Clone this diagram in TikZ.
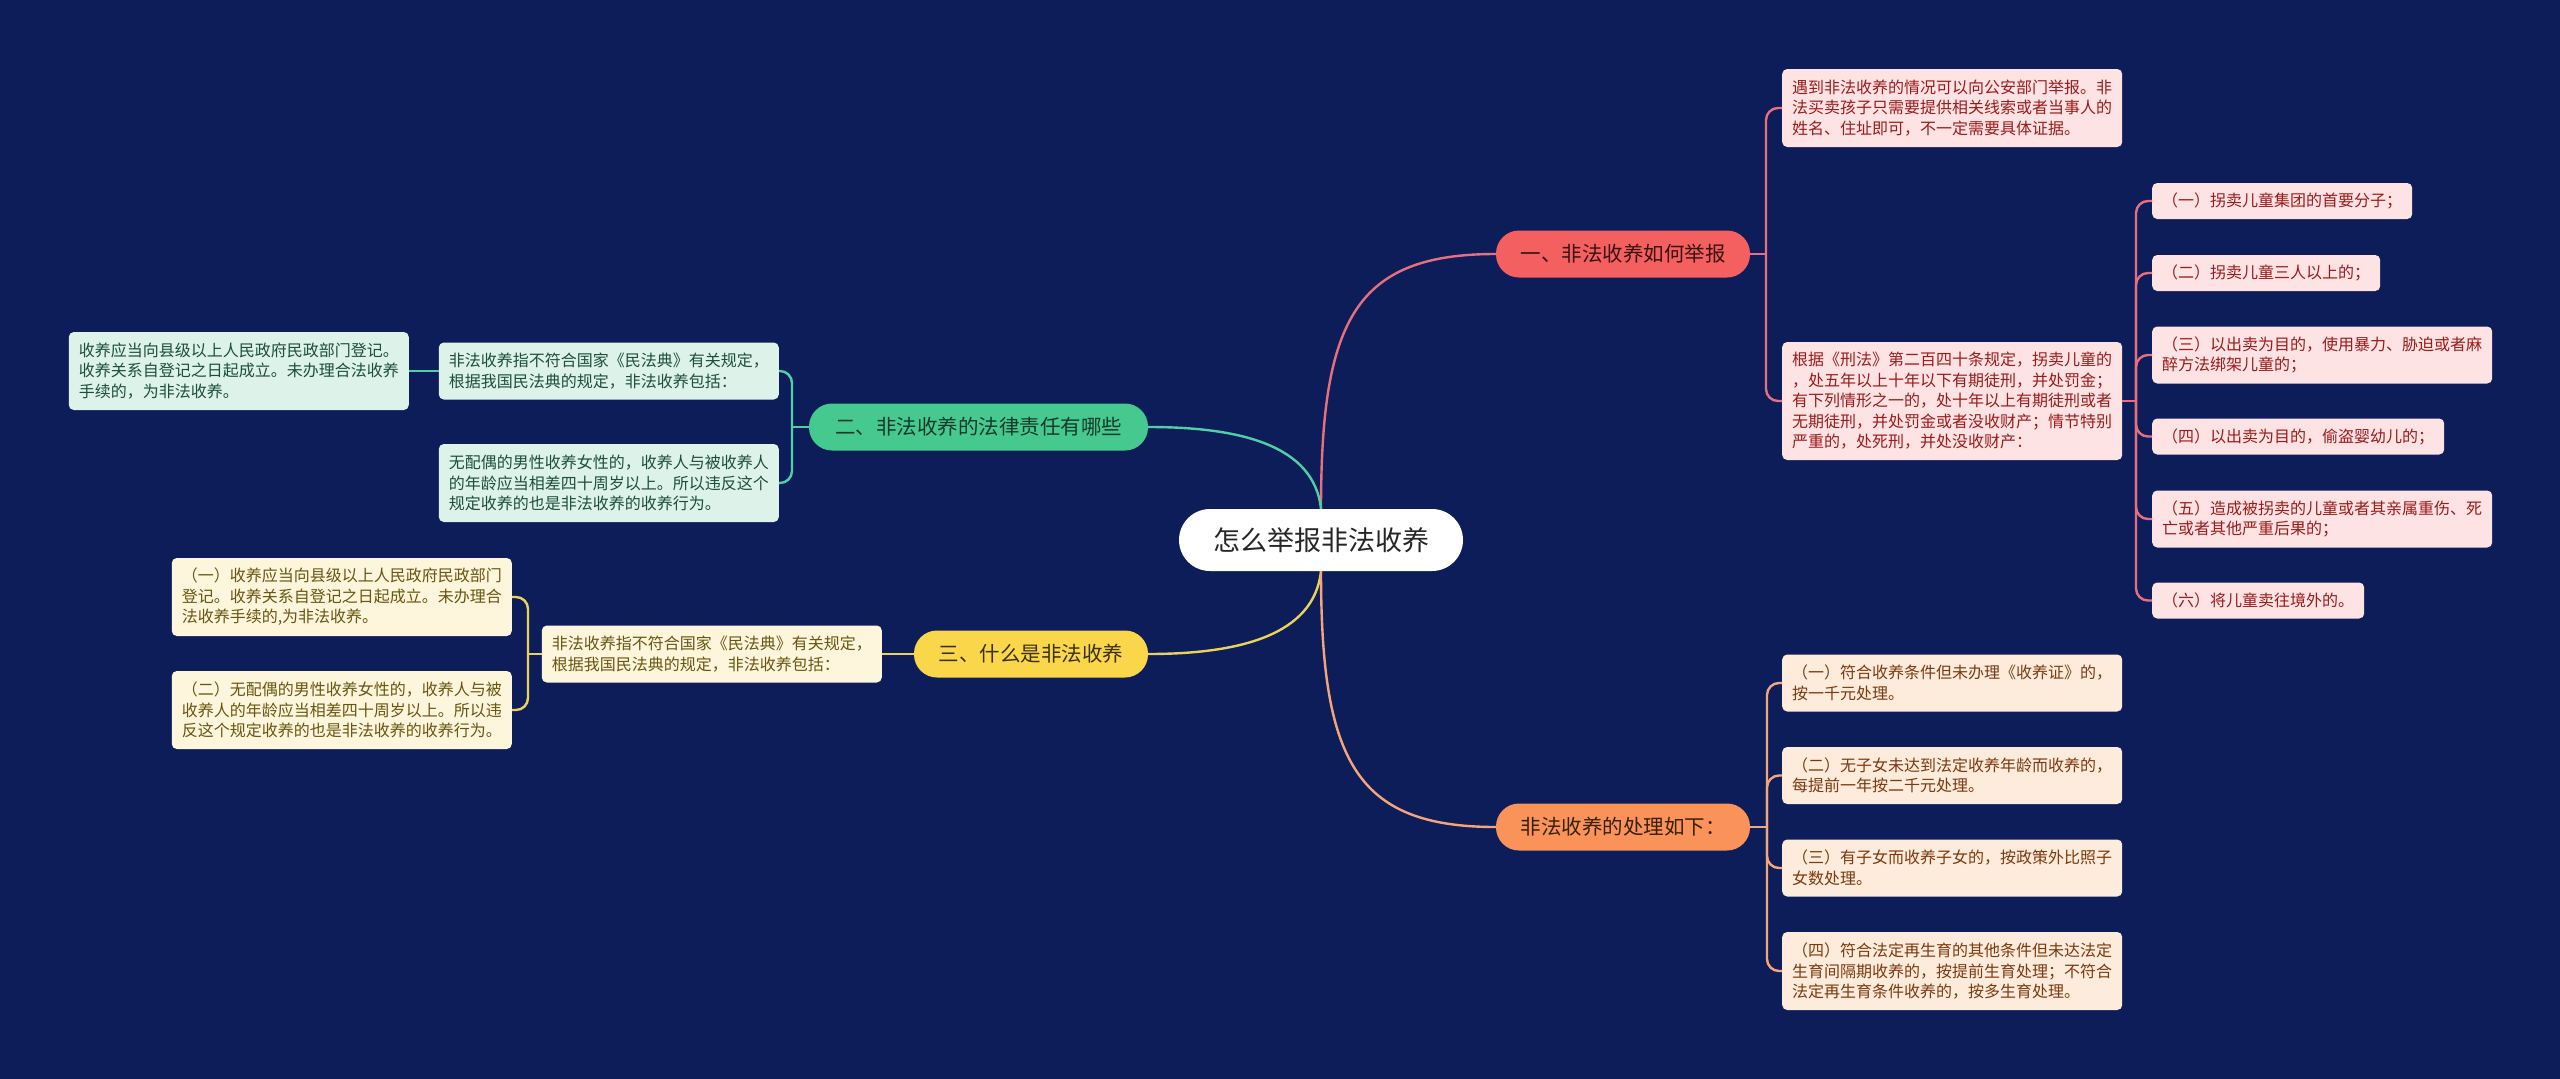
\documentclass[tikz,border=0pt]{standalone}
\usepackage{fontspec}
\setmainfont{Noto Sans CJK SC}
\definecolor{bg}{RGB}{13,29,89}
\definecolor{rfill}{HTML}{F45F5F}\definecolor{rleaf}{HTML}{FDE3E3}\definecolor{rtext}{HTML}{9A1B1B}\definecolor{rline}{HTML}{E8707E}\definecolor{rbt}{HTML}{3B1212}
\definecolor{ofill}{HTML}{F9935A}\definecolor{oleaf}{HTML}{FDEBDC}\definecolor{otext}{HTML}{7B3A0E}\definecolor{oline}{HTML}{F6A57A}\definecolor{obt}{HTML}{3B2008}
\definecolor{gfill}{HTML}{45C98F}\definecolor{gleaf}{HTML}{DDF3EA}\definecolor{gtext}{HTML}{1E4D3C}\definecolor{gline}{HTML}{4ECFA6}\definecolor{gbt}{HTML}{163A2A}
\definecolor{yfill}{HTML}{F9D64A}\definecolor{yleaf}{HTML}{FDF6DC}\definecolor{ytext}{HTML}{6A5510}\definecolor{yline}{HTML}{EBD25A}\definecolor{ybt}{HTML}{3A3010}
\tikzset{
  leaf/.style={rounded corners=5pt, align=left, inner xsep=10pt, inner ysep=2pt, font=\fontsize{16}{20.5}\selectfont},
  hA/.style={minimum height=36pt}, hB/.style={minimum height=57pt},
  hC/.style={minimum height=78pt}, hE/.style={minimum height=118pt},
  lR/.style={leaf, fill=rleaf, text=rtext},
  lO/.style={leaf, fill=oleaf, text=otext},
  lG/.style={leaf, fill=gleaf, text=gtext},
  lY/.style={leaf, fill=yleaf, text=ytext},
  br/.style={rounded corners=23pt, minimum height=47pt, inner sep=0pt, font=\fontsize{20.5}{24}\selectfont},
  con/.style={line width=2.4pt},
  brk/.style={line width=2.4pt, rounded corners=12pt},
}
\begin{document}
\begin{tikzpicture}[x=1pt,y=-1pt]
\fill[bg] (0,0) rectangle (2560,1079);
\useasboundingbox (0,0) rectangle (2560,1079);

% center
\node[fill=white, rounded corners=31pt, minimum width=284pt, minimum height=62pt, inner sep=0pt, text=black!85, font=\fontsize{27}{30}\selectfont] (c) at (1321,540) {怎么举报非法收养};

% branches
\node[br, fill=rfill, text=rbt, minimum width=254pt] (b1) at (1623,254) {一、非法收养如何举报};
\node[br, fill=ofill, text=obt, minimum width=254pt] (b4) at (1623,827) {非法收养的处理如下：};
\node[br, fill=gfill, text=gbt, minimum width=339pt] (b2) at (978.5,427) {二、非法收养的法律责任有哪些};
\node[br, fill=yfill, text=ybt, minimum width=234pt] (b3) at (1031,654) {三、什么是非法收养};

% branch 1 leaves
\node[lR, hC, anchor=west] (l1a) at (1782,108) {遇到非法收养的情况可以向公安部门举报。非\\法买卖孩子只需要提供相关线索或者当事人的\\姓名、住址即可，不一定需要具体证据。};
\node[lR, hE, anchor=west] (l1b) at (1782,401) {根据《刑法》第二百四十条规定，拐卖儿童的\\，处五年以上十年以下有期徒刑，并处罚金；\\有下列情形之一的，处十年以上有期徒刑或者\\无期徒刑，并处罚金或者没收财产；情节特别\\严重的，处死刑，并处没收财产：};
\node[lR, hA, anchor=west] (s1) at (2152,201) {（一）拐卖儿童集团的首要分子；};
\node[lR, hA, anchor=west] (s2) at (2152,273) {（二）拐卖儿童三人以上的；};
\node[lR, hB, anchor=west] (s3) at (2152,355) {（三）以出卖为目的，使用暴力、胁迫或者麻\\醉方法绑架儿童的；};
\node[lR, hA, anchor=west] (s4) at (2152,436.5) {（四）以出卖为目的，偷盗婴幼儿的；};
\node[lR, hB, anchor=west] (s5) at (2152,519) {（五）造成被拐卖的儿童或者其亲属重伤、死\\亡或者其他严重后果的；};
\node[lR, hA, anchor=west] (s6) at (2152,600.5) {（六）将儿童卖往境外的。};

% branch 4 leaves
\node[lO, hB, anchor=west] (l4a) at (1782,683) {（一）符合收养条件但未办理《收养证》的，\\按一千元处理。};
\node[lO, hB, anchor=west] (l4b) at (1782,775.5) {（二）无子女未达到法定收养年龄而收养的，\\每提前一年按二千元处理。};
\node[lO, hB, anchor=west] (l4c) at (1782,868) {（三）有子女而收养子女的，按政策外比照子\\女数处理。};
\node[lO, hC, anchor=west] (l4d) at (1782,971) {（四）符合法定再生育的其他条件但未达法定\\生育间隔期收养的，按提前生育处理；不符合\\法定再生育条件收养的，按多生育处理。};

% branch 2 leaves
\node[lG, hB, anchor=east] (l2a) at (779,371) {非法收养指不符合国家《民法典》有关规定，\\根据我国民法典的规定，非法收养包括：};
\node[lG, hC, anchor=east] (l2b) at (779,483) {无配偶的男性收养女性的，收养人与被收养人\\的年龄应当相差四十周岁以上。所以违反这个\\规定收养的也是非法收养的收养行为。};
\node[lG, hC, anchor=east] (l2c) at (409,371) {收养应当向县级以上人民政府民政部门登记。\\收养关系自登记之日起成立。未办理合法收养\\手续的，为非法收养。};

% branch 3 leaves
\node[lY, hB, anchor=east] (l3a) at (882,654) {非法收养指不符合国家《民法典》有关规定，\\根据我国民法典的规定，非法收养包括：};
\node[lY, hC, anchor=east] (l3b) at (512,597) {（一）收养应当向县级以上人民政府民政部门\\登记。收养关系自登记之日起成立。未办理合\\法收养手续的,为非法收养。};
\node[lY, hC, anchor=east] (l3c) at (512,710) {（二）无配偶的男性收养女性的，收养人与被\\收养人的年龄应当相差四十周岁以上。所以违\\反这个规定收养的也是非法收养的收养行为。};

% main curves
\draw[con, rline] (c.north) .. controls (1321,320) and (1355,254) .. (b1.west);
\draw[con, gline] (c.north) .. controls (1314,445) and (1240,427) .. (b2.east);
\draw[con, yline] (c.south) .. controls (1314,635) and (1240,654) .. (b3.east);
\draw[con, oline] (c.south) .. controls (1321,760) and (1355,827) .. (b4.west);

% branch 1 brackets
\coordinate (k1) at (1766,254);
\draw[con, rline] (b1.east) -- (k1);
\draw[brk, rline] (k1) |- (l1a.west);
\draw[brk, rline] (k1) |- (l1b.west);
\coordinate (k1b) at (2136,401);
\draw[con, rline] (l1b.east) -- (k1b);
\foreach \s in {s1,s2,s3,s4,s5,s6} \draw[brk, rline] (k1b) |- (\s.west);

% branch 4 brackets
\coordinate (k4) at (1767,827);
\draw[con, oline] (b4.east) -- (k4);
\foreach \s in {l4a,l4b,l4c,l4d} \draw[brk, oline] (k4) |- (\s.west);

% branch 2 brackets
\coordinate (k2) at (792,427);
\draw[con, gline] (b2.west) -- (k2);
\draw[brk, gline] (k2) |- (l2a.east);
\draw[brk, gline] (k2) |- (l2b.east);
\draw[con, gline] (l2a.west) -- (l2c.east);

% branch 3 brackets
\draw[con, yline] (b3.west) -- (l3a.east);
\coordinate (k3) at (528,654);
\draw[con, yline] (l3a.west) -- (k3);
\draw[brk, yline] (k3) |- (l3b.east);
\draw[brk, yline] (k3) |- (l3c.east);
\end{tikzpicture}
\end{document}
